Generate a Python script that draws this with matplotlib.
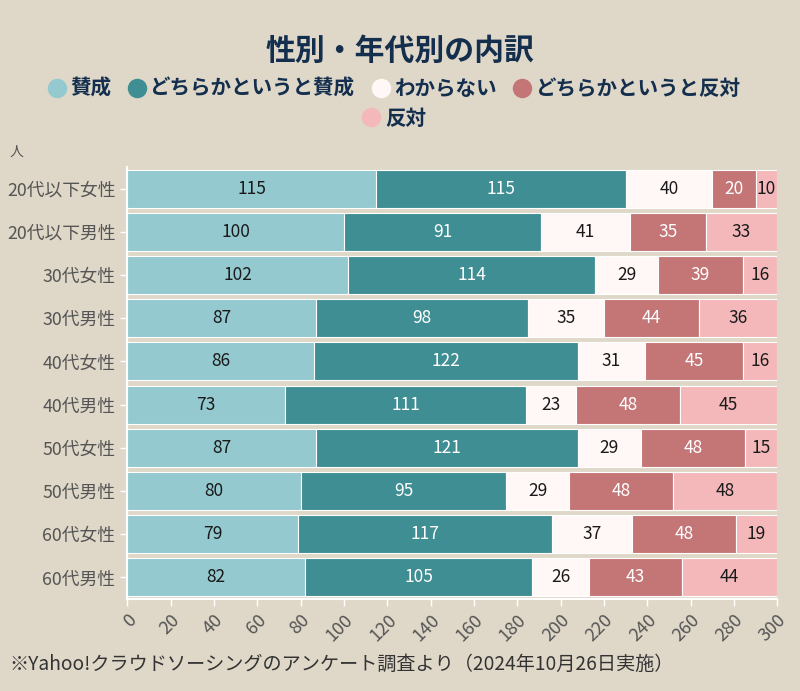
import numpy as np
import matplotlib.pyplot as plt
from matplotlib.lines import Line2D

plt.rcParams['font.family'] = ['Noto Sans CJK JP', 'DejaVu Sans']

groups = ['20代以下女性', '20代以下男性', '30代女性', '30代男性', '40代女性',
          '40代男性', '50代女性', '50代男性', '60代女性', '60代男性']
categories = ['賛成', 'どちらかというと賛成', 'わからない', 'どちらかというと反対', '反対']
agree = [115, 100, 102, 87, 86, 73, 87, 80, 79, 82]
rather_agree = [115, 91, 114, 98, 122, 111, 121, 95, 117, 105]
unknown = [40, 41, 29, 35, 31, 23, 29, 29, 37, 26]
rather_disagree = [20, 35, 39, 44, 45, 48, 48, 48, 48, 43]
disagree = [10, 33, 16, 36, 16, 45, 15, 48, 19, 44]
x_ticks = list(range(0, 301, 20))

colors = ['#93c9cf', '#3f8e93', '#fff8f7', '#c47677', '#f4b8ba']
text_colors = ['#1a1a1a', 'white', '#1a1a1a', 'white', '#1a1a1a']
bg = '#dfd8c8'
navy = '#142e4e'

series = [agree, rather_agree, unknown, rather_disagree, disagree]

fig = plt.figure(figsize=(8, 6.91), dpi=100, facecolor=bg)
ax = fig.add_axes([0.159, 0.1331, 0.8125, 0.6252])
ax.set_facecolor(bg)

y = np.arange(len(groups))
left = np.zeros(len(groups))
for vals, c, tc in zip(series, colors, text_colors):
    vals = np.array(vals)
    ax.barh(y, vals, left=left, height=0.88, color=c, edgecolor='white', linewidth=0.8)
    for yi, v, l in zip(y, vals, left):
        ax.text(l + v / 2, yi, str(v), ha='center', va='center',
                color=tc, fontsize=12.5)
    left += vals

ax.set_ylim(9.5, -0.5)
ax.set_xlim(0, 300)
ax.set_yticks(y)
ax.set_yticklabels(groups, fontsize=12.8, color='#555555')
ax.set_xticks(x_ticks)
ax.set_xticklabels([str(t) for t in x_ticks], rotation=45, fontsize=13,
                   color='#555555', ha='right', va='top', rotation_mode='anchor')
ax.tick_params(axis='both', color='white', length=5, width=1)
for s in ['top', 'right']:
    ax.spines[s].set_visible(False)
for s in ['left', 'bottom']:
    ax.spines[s].set_color('white')
    ax.spines[s].set_linewidth(1.5)

fig.text(0.5, 0.927, '性別・年代別の内訳', ha='center', va='center',
         fontsize=21.5, fontweight='bold', color=navy)

handles = [Line2D([], [], marker='o', linestyle='none', markersize=13,
                  markerfacecolor=c, markeredgecolor=c) for c in colors]
leg1 = fig.legend(handles[:4], categories[:4], loc='center', ncol=4,
                  bbox_to_anchor=(0.49, 0.872), frameon=False, handletextpad=0.0,
                  handlelength=1.3, columnspacing=0.6,
                  prop={'weight': 'bold', 'size': 14.8})
for t in leg1.get_texts():
    t.set_color(navy)
leg2 = fig.legend(handles[4:], categories[4:], loc='center', ncol=1,
                  bbox_to_anchor=(0.49, 0.829), frameon=False, handletextpad=0.0,
                  handlelength=1.3, prop={'weight': 'bold', 'size': 14.8})
for t in leg2.get_texts():
    t.set_color(navy)

fig.text(0.012, 0.78, '人', fontsize=10, color='#555555', va='center')
fig.text(0.012, 0.038, '※Yahoo!クラウドソーシングのアンケート調査より（2024年10月26日実施）',
         fontsize=13.8, color='#333333', va='center')

fig.savefig('out.png', dpi=100, facecolor=bg)
